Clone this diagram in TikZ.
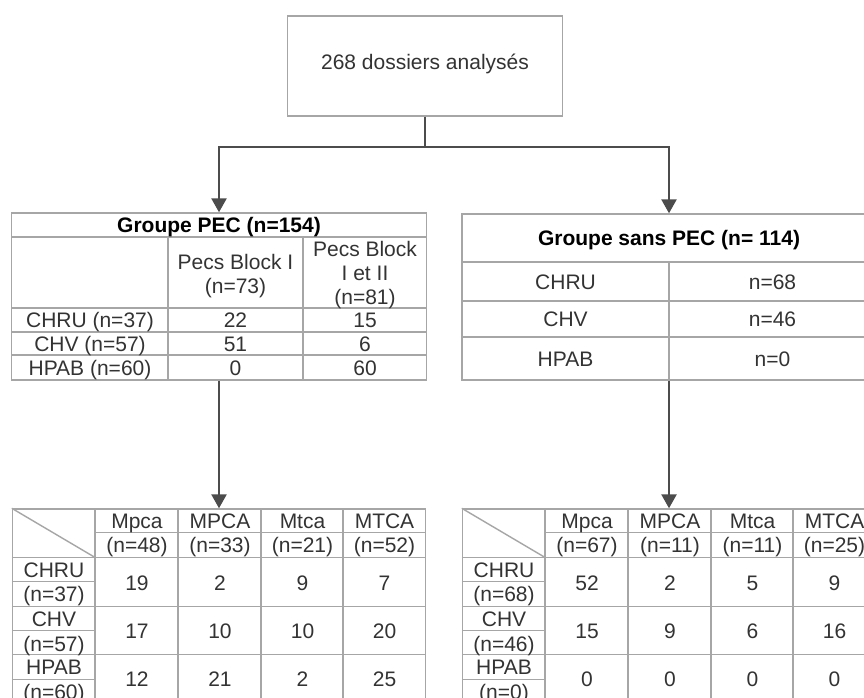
\documentclass[tikz,border=0pt]{standalone}
\usepackage{fontspec}
\setmainfont{Liberation Sans}
\usetikzlibrary{positioning, arrows.meta, calc}

\begin{document}
\begin{tikzpicture}[x=1pt, y=-1pt]
    \tikzset{
        frame box/.style={
                draw=gray!70, line width=1.4pt, inner sep=0pt
            },
        grid line/.style={
                draw=gray!70, line width=1.4pt
            },
        cell/.style={
                font=\fontsize{21}{24}\selectfont, text=black!80,
                inner sep=0pt, text height=15pt, text depth=0pt
            },
        title cell/.style={
                cell, font=\fontsize{21}{24}\selectfont\bfseries, text=black
            },
        cell lines/.style={
                font=\fontsize{21}{24}\selectfont, text=black!80,
                inner sep=0pt, align=center
            },
        cell pair/.style={
                cell lines, font=\fontsize{21}{24.5}\selectfont
            },
        flow line/.style={
                draw=black!70, line width=2.5pt
            },
        flow arrow/.style={
                flow line, -{Triangle[width=15pt, length=14pt]}
            },
        count grid/.pic={
                \draw[grid line] (0,0) -- (83,49);
                \draw[grid line] (83,24) -- (413,24);
                \draw[grid line] (0,49) -- (413,49);
                \draw[grid line] (0,98) -- (413,98);
                \draw[grid line] (0,146) -- (413,146);
                \draw[grid line] (0,73) -- (83,73);
                \draw[grid line] (0,122) -- (83,122);
                \draw[grid line] (0,171) -- (83,171);
                \draw[grid line] (83,0) -- (83,194);
                \draw[grid line] (166,0) -- (166,194);
                \draw[grid line] (249,0) -- (249,194);
                \draw[grid line] (331,0) -- (331,194);
            }
    }

    \useasboundingbox (0,0) rectangle (864,698);
    \clip (0,0) rectangle (864,698);
    \fill[white] (0,0) rectangle (864,698);

    \node[frame box, cell, text depth=7pt, minimum width=275pt, minimum height=100pt] (dossiers) at (425,66) {268 dossiers analysés};
    \node[frame box, minimum width=415pt, minimum height=167pt] (pec) at (219,296.5) {};
    \node[frame box, minimum width=414pt, minimum height=166pt] (sanspec) at (669,297) {};
    \node[frame box, minimum width=413pt, minimum height=194pt] (pec-mt) at (219,606) {};
    \node[frame box, minimum width=413pt, minimum height=194pt] (sanspec-mt) at (669,606) {};

    % Split Arrows
    \coordinate (split) at (425,147);
    \draw[flow line] (dossiers.south) -- (split);
    \draw[flow arrow] (split) -| (pec.north);
    \draw[flow arrow] (split) -| (sanspec.north);
    \draw[flow arrow] (pec.south) -- (pec-mt.north);
    \draw[flow arrow] (sanspec.south) -- (sanspec-mt.north);

    % Groupe PEC
    \draw[grid line] (11.5,237) -- (426.5,237);
    \draw[grid line] (11.5,308) -- (426.5,308);
    \draw[grid line] (11.5,332) -- (426.5,332);
    \draw[grid line] (11.5,355) -- (426.5,355);
    \draw[grid line] (168,237) -- (168,380);
    \draw[grid line] (303,237) -- (303,380);
    \node[title cell] (pec-title) at (219,225) {Groupe PEC (n=154)};
    \node[cell lines] (pec-b1) at (235.5,276) {Pecs Block I\\(n=73)};
    \node[cell lines] (pec-b12) at (365,275) {Pecs Block\\I et II\\(n=81)};
    \node[cell] (pec-chru) at (90,320) {CHRU (n=37)};
    \node[cell] (pec-chru-b1) at (235.5,320) {22};
    \node[cell] (pec-chru-b12) at (365,320) {15};
    \node[cell] (pec-chv) at (90,343.5) {CHV (n=57)};
    \node[cell] (pec-chv-b1) at (235.5,343.5) {51};
    \node[cell] (pec-chv-b12) at (365,343.5) {6};
    \node[cell] (pec-hpab) at (90,367.5) {HPAB (n=60)};
    \node[cell] (pec-hpab-b1) at (235.5,367.5) {0};
    \node[cell] (pec-hpab-b12) at (365,367.5) {60};

    % Groupe sans PEC
    \draw[grid line] (462,262) -- (876,262);
    \draw[grid line] (462,301) -- (876,301);
    \draw[grid line] (462,337) -- (876,337);
    \draw[grid line] (669,262) -- (669,380);
    \node[title cell] (sanspec-title) at (669,238) {Groupe sans PEC (n= 114)};
    \node[cell] (sanspec-chru) at (565.5,282) {CHRU};
    \node[cell] (sanspec-chru-n) at (772.5,282) {n=68};
    \node[cell] (sanspec-chv) at (565.5,319) {CHV};
    \node[cell] (sanspec-chv-n) at (772.5,319) {n=46};
    \node[cell] (sanspec-hpab) at (565.5,358.5) {HPAB};
    \node[cell] (sanspec-hpab-n) at (772.5,358.5) {n=0};

    % PEC counts
    \pic at (pec-mt.north west) {count grid};
    \node[cell pair] (pec-Mpca) at (137,535.5) {Mpca\\(n=48)};
    \node[cell pair] (pec-MPCA) at (220,535.5) {MPCA\\(n=33)};
    \node[cell pair] (pec-Mtca) at (302.5,535.5) {Mtca\\(n=21)};
    \node[cell pair] (pec-MTCA) at (384.5,535.5) {MTCA\\(n=52)};
    \node[cell pair] (pec-chru-n) at (54,584.5) {CHRU\\(n=37)};
    \node[cell pair] (pec-chv-n) at (54,634) {CHV\\(n=57)};
    \node[cell pair] (pec-hpab-n) at (54,682) {HPAB\\(n=60)};
    \node[cell] (pec-chru-Mpca) at (137,582.5) {19};
    \node[cell] (pec-chru-MPCA) at (220,582.5) {2};
    \node[cell] (pec-chru-Mtca) at (302.5,582.5) {9};
    \node[cell] (pec-chru-MTCA) at (384.5,582.5) {7};
    \node[cell] (pec-chv-Mpca) at (137,631) {17};
    \node[cell] (pec-chv-MPCA) at (220,631) {10};
    \node[cell] (pec-chv-Mtca) at (302.5,631) {10};
    \node[cell] (pec-chv-MTCA) at (384.5,631) {20};
    \node[cell] (pec-hpab-Mpca) at (137,679) {12};
    \node[cell] (pec-hpab-MPCA) at (220,679) {21};
    \node[cell] (pec-hpab-Mtca) at (302.5,679) {2};
    \node[cell] (pec-hpab-MTCA) at (384.5,679) {25};

    % sans PEC counts
    \pic at (sanspec-mt.north west) {count grid};
    \node[cell pair] (sanspec-Mpca) at (587,535.5) {Mpca\\(n=67)};
    \node[cell pair] (sanspec-MPCA) at (670,535.5) {MPCA\\(n=11)};
    \node[cell pair] (sanspec-Mtca) at (752.5,535.5) {Mtca\\(n=11)};
    \node[cell pair] (sanspec-MTCA) at (834.5,535.5) {MTCA\\(n=25)};
    \node[cell pair] (sanspec-chru-n) at (504,584.5) {CHRU\\(n=68)};
    \node[cell pair] (sanspec-chv-n) at (504,634) {CHV\\(n=46)};
    \node[cell pair] (sanspec-hpab-n) at (504,682) {HPAB\\(n=0)};
    \node[cell] (sanspec-chru-Mpca) at (587,582.5) {52};
    \node[cell] (sanspec-chru-MPCA) at (670,582.5) {2};
    \node[cell] (sanspec-chru-Mtca) at (752.5,582.5) {5};
    \node[cell] (sanspec-chru-MTCA) at (834.5,582.5) {9};
    \node[cell] (sanspec-chv-Mpca) at (587,631) {15};
    \node[cell] (sanspec-chv-MPCA) at (670,631) {9};
    \node[cell] (sanspec-chv-Mtca) at (752.5,631) {6};
    \node[cell] (sanspec-chv-MTCA) at (834.5,631) {16};
    \node[cell] (sanspec-hpab-Mpca) at (587,679) {0};
    \node[cell] (sanspec-hpab-MPCA) at (670,679) {0};
    \node[cell] (sanspec-hpab-Mtca) at (752.5,679) {0};
    \node[cell] (sanspec-hpab-MTCA) at (834.5,679) {0};
\end{tikzpicture}
\end{document}
